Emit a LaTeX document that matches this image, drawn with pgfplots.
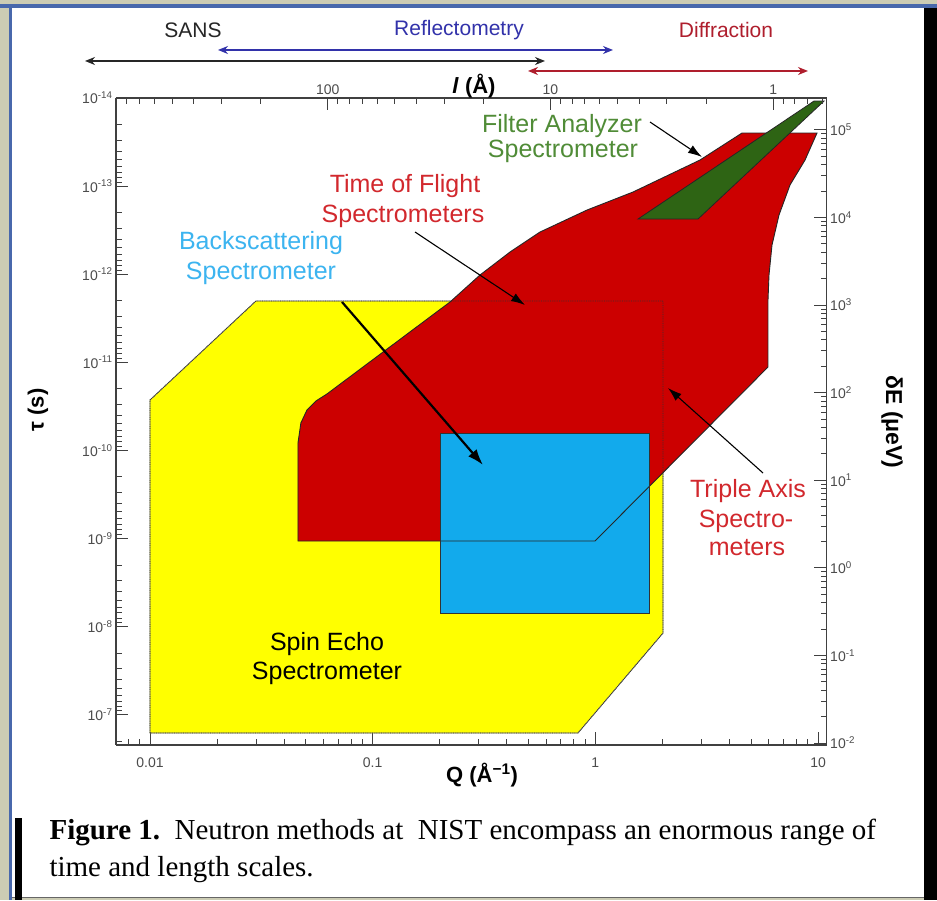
\documentclass[border=0pt]{standalone}
\usepackage{pgfplots}
\pgfplotsset{compat=1.18}
\usepackage{pgfplotstable}
\usepackage{fontspec}
\setmainfont{Liberation Sans}
\newfontfamily\capfont{Liberation Serif}
\usetikzlibrary{arrows.meta}

\definecolor{bgbeige}{RGB}{204,204,180}
\definecolor{frameblue}{RGB}{72,104,172}
\definecolor{seyellow}{RGB}{255,255,0}
\definecolor{tofred}{RGB}{204,0,0}
\definecolor{bsblue}{RGB}{18,170,236}
\definecolor{fagreen}{RGB}{46,100,20}
\definecolor{txtred}{RGB}{210,40,45}
\definecolor{txtblue}{RGB}{60,180,240}
\definecolor{txtgreen}{RGB}{80,140,55}
\definecolor{reflblue}{RGB}{50,50,170}
\definecolor{diffred}{RGB}{175,30,45}

% Spin echo region (Q in 1/A, dE in micro-eV)
\pgfplotstableread{
Q E
0.01 0.0130
0.01 82.3
0.0299 1111
2.012 1111
2.012 0.180
0.835 0.0130
}\spinecho

% Backscattering region
\pgfplotstableread{
Q E
0.2005 0.305
0.2005 34.6
1.741 34.6
1.741 0.305
}\backscat

% Time of flight + triple axis region
\pgfplotstableread{
Q E
0.0462 2.022
0.0462 26.6
0.0476 45.0
0.0507 63.3
0.0556 80.2
0.0623 96.4
0.2224 1082
0.3032 2200
0.4136 4027
0.5640 6812
0.9169 12150
1.475 19500
2.949 45220
4.552 91950
9.886 91950
8.735 45220
7.478 23440
6.674 10650
6.209 4842
6.019 2200
5.957 1140
5.957 195.9
0.996 2.022
}\tofta

% Filter analyzer region
\pgfplotstableread{
Q E
1.553 9587
2.888 9587
10.63 213200
9.585 213200
}\filteran

\begin{document}
\begin{tikzpicture}[x=1pt,y=1pt]
\useasboundingbox (0,0) rectangle (937,900);
% frame
\fill[bgbeige] (0,0) rectangle (937,900);
\fill[white] (12,3) rectangle (926,893);
\fill[frameblue] (0,892) rectangle (937,896);
\fill[frameblue] (9,0) rectangle (12,896);
\fill[black] (924,0) rectangle (937,892);
\fill[black!60] (12,2) rectangle (924,3.5);
\fill[black] (15,0) rectangle (22,82);

% main axis: Q vs dE
\begin{axis}[
  at={(116pt,155pt)}, anchor=south west,
  scale only axis, width=710.7pt, height=647pt,
  xmode=log, ymode=log,
  xmin=0.00704, xmax=10.93, ymin=0.00949, ymax=2.31e5,
  axis x line*=bottom, axis y line*=right,
  axis line style={line width=1.3pt, draw=black!75},
  tick align=inside,
  major tick length=13pt, minor tick length=6pt,
  every tick/.style={black!75, line width=0.9pt},
  xtick={0.01,0.1,1,10}, xticklabels={0.01,0.1,1,10},
  minor xtick={0.008,0.009,0.02,0.03,0.04,0.05,0.06,0.07,0.08,0.09,0.2,0.3,0.4,0.5,0.6,0.7,0.8,0.9,2,3,4,5,6,7,8,9},
  ytick={0.01,0.1,1,10,100,1000,10000,100000},
  yticklabels={10\textsuperscript{-2},10\textsuperscript{-1},10\textsuperscript{0},10\textsuperscript{1},10\textsuperscript{2},10\textsuperscript{3},10\textsuperscript{4},10\textsuperscript{5}},
  minor ytick={}, minor y tick num=0,
  ticklabel style={font=\fontsize{14}{16}\selectfont, text=black!70},
  xticklabel style={yshift=-9pt},
]
\addplot[fill=seyellow, draw=black!60, line width=0.8pt] table[x=Q,y=E] {\spinecho} -- cycle;
\addplot[fill=tofred, draw=none] table[x=Q,y=E] {\tofta} -- cycle;
\addplot[fill=bsblue, draw=none] table[x=Q,y=E] {\backscat} -- cycle;
\addplot[draw=black!80, line width=0.8pt, densely dotted] table[x=Q,y=E] {\spinecho} -- cycle;
\addplot[draw=black!85, line width=0.9pt] table[x=Q,y=E] {\tofta} -- cycle;
\addplot[draw=black!80, line width=0.8pt] table[x=Q,y=E] {\backscat} -- cycle;
\addplot[fill=fagreen, draw=black!85, line width=0.8pt] table[x=Q,y=E] {\filteran} -- cycle;
\end{axis}

% secondary axis: length (top) and time (left)
\begin{axis}[
  at={(116pt,155pt)}, anchor=south west,
  scale only axis, width=710.7pt, height=647pt,
  xmode=log, ymode=log, y dir=reverse,
  xmin=0.00704, xmax=10.93, ymin=1e-14, ymax=2.21e-7,
  axis x line*=top, axis y line*=left,
  axis line style={line width=1.3pt, draw=black!75},
  tick align=inside,
  major tick length=12pt, minor tick length=6pt,
  every tick/.style={black!75, line width=0.9pt},
  xtick={0.0628319,0.628319,6.28319}, xticklabels={100,10,1},
  minor xtick={0.00785398,0.00897598,0.0104720,0.0125664,0.0157080,0.0209440,0.0314159,0.0698132,0.0785398,0.0897598,0.104720,0.125664,0.157080,0.209440,0.314159,0.698132,0.785398,0.897598,1.04720,1.25664,1.57080,2.09440,3.14159,6.98132,7.85398,8.97598,10.4720},
  ytick={1e-14,1e-13,1e-12,1e-11,1e-10,1e-9,1e-8,1e-7},
  yticklabels={10\textsuperscript{-14},10\textsuperscript{-13},10\textsuperscript{-12},10\textsuperscript{-11},10\textsuperscript{-10},10\textsuperscript{-9},10\textsuperscript{-8},10\textsuperscript{-7}},
  minor ytick={2e-14,3e-14,4e-14,5e-14,6e-14,7e-14,8e-14,9e-14,
    2e-13,3e-13,4e-13,5e-13,6e-13,7e-13,8e-13,9e-13,
    2e-12,3e-12,4e-12,5e-12,6e-12,7e-12,8e-12,9e-12,
    2e-11,3e-11,4e-11,5e-11,6e-11,7e-11,8e-11,9e-11,
    2e-10,3e-10,4e-10,5e-10,6e-10,7e-10,8e-10,9e-10,
    2e-9,3e-9,4e-9,5e-9,6e-9,7e-9,8e-9,9e-9,
    2e-8,3e-8,4e-8,5e-8,6e-8,7e-8,8e-8,9e-8,2e-7},
  ticklabel style={font=\fontsize{14}{16}\selectfont, text=black!70},
]
\end{axis}

% annotations in pixel coordinates (origin top-left)
\begin{scope}[shift={(0pt,900pt)}, x=1pt, y=-1pt]
  % header arrows
  \draw[black!85, line width=1.5pt, {Stealth[length=10pt,width=8pt]}-{Stealth[length=10pt,width=8pt]}] (85,61) -- (545,61);
  \draw[reflblue, line width=1.5pt, {Stealth[length=10pt,width=8pt]}-{Stealth[length=10pt,width=8pt]}] (218,50) -- (613,50);
  \draw[diffred, line width=1.5pt, {Stealth[length=10pt,width=8pt]}-{Stealth[length=10pt,width=8pt]}] (528,71) -- (808,71);
  \node[font=\fontsize{21}{21}\selectfont, text=black!85] at (193,30) {SANS};
  \node[font=\fontsize{21}{21}\selectfont, text=reflblue] at (459,30) {Reflectometry};
  \node[font=\fontsize{21}{21}\selectfont, text=diffred] at (726,30) {Diffraction};

  % axis titles
  \node[font=\fontsize{22}{22}\selectfont\bfseries] at (474,86) {\textit{l} (Å)};
  \node[font=\fontsize{22}{22}\selectfont\bfseries] at (482,775) {Q (Å\textsuperscript{−1})};
  \node[font=\fontsize{22}{22}\selectfont\bfseries, rotate=90] at (38,410) {τ (s)};
  \node[font=\fontsize{23}{23}\selectfont\bfseries, rotate=-90] at (892,422) {δE (μeV)};

  % region labels
  \begin{scope}[every node/.style={font=\fontsize{25}{25}\selectfont, anchor=base}]
    \node[text=txtgreen] at (562,133) {Filter Analyzer};
    \node[text=txtgreen] at (563,158) {Spectrometer};
    \node[text=txtred] at (405,193) {Time of Flight};
    \node[text=txtred] at (403,223) {Spectrometers};
    \node[text=txtblue] at (261,250) {Backscattering};
    \node[text=txtblue] at (261,280) {Spectrometer};
    \node[text=txtred] at (748,498) {Triple Axis};
    \node[text=txtred] at (746,528) {Spectro-};
    \node[text=txtred] at (747,556) {meters};
    \node[text=black] at (327,651) {Spin Echo};
    \node[text=black] at (327,680) {Spectrometer};
  \end{scope}

  % pointer arrows
  \draw[black, line width=1.1pt, -{Latex[length=14pt,width=9pt]}] (650,122) -- (702,157);
  \draw[black, line width=1.1pt, -{Latex[length=14pt,width=9pt]}] (415,232) -- (525,305);
  \draw[black, line width=2.2pt, -{Latex[length=16pt,width=11pt]}] (342,302) -- (483,465);
  \draw[black, line width=1.1pt, -{Latex[length=14pt,width=9pt]}] (763,473) -- (668,388);

  % caption
  \node[anchor=base west, font=\capfont\fontsize{29}{29}\selectfont] at (46,839) {\textbf{Figure 1.}\ \ Neutron methods at\ \ NIST encompass an enormous range of};
  \node[anchor=base west, font=\capfont\fontsize{29}{29}\selectfont] at (46,876) {time and length scales.};
\end{scope}
\end{tikzpicture}
\end{document}
